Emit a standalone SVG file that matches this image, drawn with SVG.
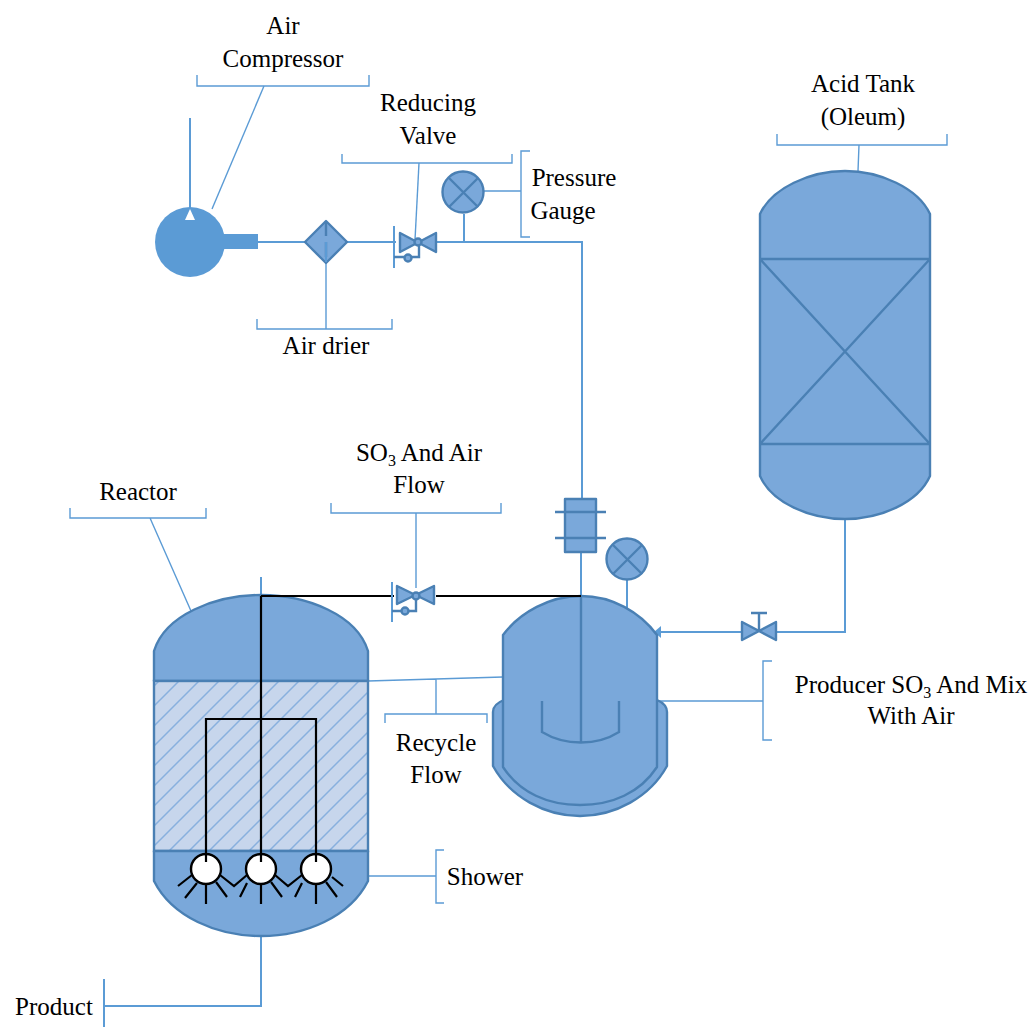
<svg xmlns="http://www.w3.org/2000/svg" width="1036" height="1028" viewBox="0 0 1036 1028">
<style>
text{font-family:"Liberation Serif","Times New Roman",serif;font-size:25px;fill:#000;text-anchor:middle}
.l{fill:none;stroke:#5b9bd5;stroke-width:1.4}
.t{fill:none;stroke:#5b9bd5;stroke-width:2}
.n{fill:#7aa8da;stroke:#4a80b4;stroke-width:2.4;stroke-linejoin:round}
.i{fill:none;stroke:#4a80b4;stroke-width:2.4}
.b{fill:none;stroke:#000;stroke-width:2.2}
.bl{fill:none;stroke:#000;stroke-width:2.2;stroke-linecap:butt}
</style>
<defs>
<pattern id="h" width="20" height="20" patternUnits="userSpaceOnUse">
<rect width="20" height="20" fill="#c7d6ec"/>
<path d="M-5 5L5 -5M-5 25L25 -5M15 25L25 15" stroke="#88b0de" stroke-width="1.5"/>
</pattern>
</defs>
<g id="connectors">
<path class="t" d="M190 118V208"/>
<path class="l" d="M212 209L264 86"/>
<path class="l" d="M197 75V86H369V75"/>
<path class="t" d="M258 242H306M346 242H396"/>
<path class="t" d="M430 242H582V500"/>
<path class="t" d="M464 214V242"/>
<path class="l" d="M415 240L419 163"/>
<path class="l" d="M342 154V163H512V154"/>
<path class="l" d="M484 191H521M530 151H521V237H530"/>
<path class="l" d="M326 262V329M257 319V329H392V319"/>
<path class="l" d="M858 171L859 145M777 134V145H947V134"/>
<path class="t" d="M845 519V632H776M742 632H660"/>
<path fill="#5b9bd5" d="M654 632L661 626V638Z"/>
<path class="l" d="M658 701H763M772 661H763V740H772"/>
<path class="l" d="M368 681L503 677M436 679V714M385 723V714H487V723"/>
<path class="l" d="M150 518L191 611M70 508V518H206V508"/>
<path class="l" d="M416 588V513M331 503V513H501V503"/>
<path class="l" d="M342 876H436M444 850H436V903H444"/>
<path class="t" d="M261 936V1006H104M104 979V1027"/>
<path class="t" d="M261 577V596"/>
<path class="t" d="M581 545V596"/>
<path class="t" d="M627 578V608" stroke-width="2.4"/>
</g>
<g id="air-compressor">
<circle cx="190" cy="242" r="35" fill="#5b9bd5"/>
<rect x="220" y="234" width="38" height="15" fill="#5b9bd5"/>
<path fill="#fff" d="M190 209L195 220H185Z"/>
</g>
<g id="air-drier">
<path class="n" d="M326 221L347 242L326 263L305 242Z"/>
<path class="i" d="M326 221V263" stroke-dasharray="15 6"/>
<path stroke="#5b9bd5" stroke-width="2" d="M326 242V262"/>
</g>
<g id="reducing-valve">
<path class="n" d="M400 233L436 252V233L400 252Z"/>
<path class="t" d="M394 226V268" stroke="#4a80b4"/>
<path class="i" d="M394 257H419V242"/>
<circle class="n" cx="408" cy="258" r="3.5"/>
<circle class="n" cx="418" cy="242" r="3.5"/>
</g>
<g id="pressure-gauge">
<circle class="n" cx="463" cy="192" r="20.5"/>
<path class="i" d="M449 178L478 207M478 178L449 207"/>
</g>
<g id="acid-tank">
<path class="n" d="M760 214C772 188 810 171 845 171C880 171 918 188 930 214V476C918 503 880 519 845 519C810 519 772 503 760 476Z"/>
<path class="i" d="M760 259H930M760 444H930M760 259L930 444M930 259L760 444"/>
</g>
<g id="tank-valve">
<path class="n" d="M742 622L776 640V622L742 640Z"/>
<path class="i" d="M759 631V613M751 613H767"/>
</g>
<g id="mixer-jacket">
<path class="n" d="M504 700C496 703 493 707 493 712V766C510 797 545 816 580 816C615 816 650 797 667 766V712C667 707 664 703 657 700Z"/>
</g>
<g id="mixer">
<path class="n" d="M503 635C520 612 550 596 581 596C612 596 640 612 657 635V767C640 793 612 805 580 805C548 805 520 793 503 767Z"/>
<path class="i" d="M581 596V742M542 701V732C565 746 597 746 619 732V701"/>
<rect class="n" x="565" y="499" width="31" height="53"/>
<path class="i" d="M555 512H606M555 538H606"/>
<circle class="n" cx="627" cy="559" r="20.5"/>
<path class="i" d="M613 545L642 574M642 545L613 574"/>
</g>
<g id="reactor">
<path class="n" d="M154 651C165 615 215 595 261 595C307 595 357 615 368 651V681H154Z"/>
<rect x="154" y="681" width="214" height="170" fill="url(#h)" stroke="#4a80b4" stroke-width="2.4"/>
<path class="n" d="M154 851H368V881C350 917 305 936 261 936C217 936 172 917 154 881Z"/>
</g>
<g id="shower">
<path class="b" d="M261 596V865M206 855V719H316V855M261 596H394M436 596H581"/>
<path class="b" d="M192 875L178 886M197 883L185 898M206 885V904M216 882L227 897M220 875L234 886L247 875M247 883L240 897M261 885V904M271 882L282 897M275 875L288 886L302 875M302 883L295 897M316 885V904M326 882L337 897M332 877L343 886"/>
<circle cx="206" cy="869" r="15" fill="#fff" stroke="#000" stroke-width="2.4"/>
<circle cx="261" cy="869" r="15" fill="#fff" stroke="#000" stroke-width="2.4"/>
<circle cx="316" cy="869" r="15" fill="#fff" stroke="#000" stroke-width="2.4"/>
<path class="b" d="M206 855V862M261 855V862M316 855V862"/>
</g>
<g id="so3-valve">
<path class="n" d="M397 586L434 604V586L397 604Z"/>
<path class="t" d="M392 582V622" stroke="#4a80b4"/>
<path class="i" d="M392 611H416V596"/>
<circle class="n" cx="405" cy="611" r="3.5"/>
<circle class="n" cx="416" cy="596" r="3.5"/>
</g>
<g id="labels">
<text x="283" y="34">Air</text>
<text x="283" y="67">Compressor</text>
<text x="428" y="111">Reducing</text>
<text x="428" y="144">Valve</text>
<text x="574" y="186">Pressure</text>
<text x="563" y="219">Gauge</text>
<text x="326" y="354">Air drier</text>
<text x="863" y="92">Acid Tank</text>
<text x="863" y="125">(Oleum)</text>
<text x="419" y="461">SO<tspan font-size="16" dy="5">3</tspan><tspan dy="-5"> And Air</tspan></text>
<text x="419" y="493">Flow</text>
<text x="138" y="500">Reactor</text>
<text x="436" y="751">Recycle</text>
<text x="436" y="783">Flow</text>
<text x="911" y="693">Producer SO<tspan font-size="16" dy="5">3</tspan><tspan dy="-5"> And Mix</tspan></text>
<text x="911" y="724">With Air</text>
<text x="485" y="885">Shower</text>
<text x="54" y="1015">Product</text>
</g>
</svg>
